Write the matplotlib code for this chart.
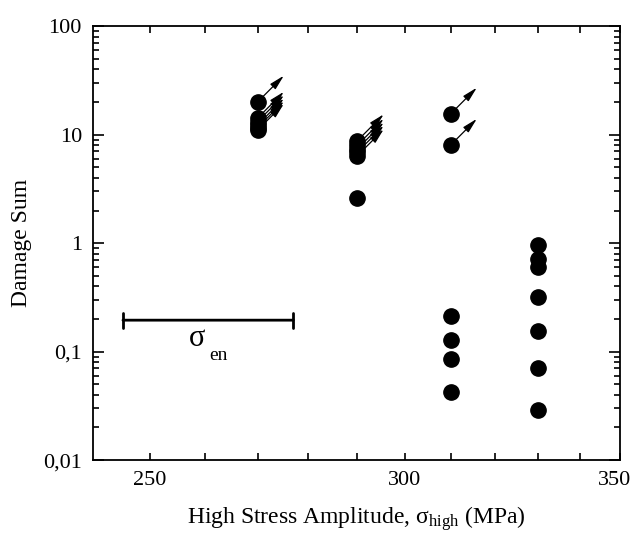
import matplotlib.pyplot as plt
from matplotlib.ticker import FixedLocator, NullFormatter, LogLocator, FixedFormatter
import matplotlib.transforms as mtransforms
import numpy as np

plt.rcParams['font.family'] = ['Liberation Serif', 'DejaVu Serif']
plt.rcParams['mathtext.fontset'] = 'stix'

# runouts (still alive -> arrow)
x_run = [270, 270, 270, 270, 270, 270, 290, 290, 290, 290, 290, 310, 310]
y_run = [20, 14.2, 13.2, 12.3, 11.6, 11, 8.8, 8.0, 7.4, 6.9, 6.4, 15.5, 8.0]

# failed specimens
x_fail = [290, 310, 310, 310, 310, 330, 330, 330, 330, 330, 330, 330]
y_fail = [2.6, 0.215, 0.128, 0.086, 0.042, 0.97, 0.72, 0.60, 0.32, 0.155, 0.07, 0.029]

sigma_en = [245.2, 277.0]
sigma_en_y = 0.195

fig = plt.figure(figsize=(6.34, 5.35), dpi=100)
ax = fig.add_axes([0.1467, 0.140, 0.8313, 0.811])

ax.set_xscale('log')
ax.set_yscale('log')
ax.set_xlim(240, 350)
ax.set_ylim(0.01, 100)

ax.plot(x_run, y_run, 'o', color='black', ms=11, zorder=3)
ax.plot(x_fail, y_fail, 'o', color='black', ms=11, zorder=3)

# arrows from runout points, up and right
for xv, yv in zip(x_run, y_run):
    ax.annotate('', xy=(xv * 1.019, yv * 1.75), xytext=(xv, yv),
                arrowprops=dict(arrowstyle='-|>,head_length=0.9,head_width=0.22',
                                color='black', lw=0.9, shrinkA=0, shrinkB=0))

# sigma_en bar
ax.annotate('', xy=(sigma_en[0], sigma_en_y), xytext=(sigma_en[1], sigma_en_y),
            arrowprops=dict(arrowstyle='|-|,widthA=0.55,widthB=0.55',
                            color='black', lw=2, shrinkA=0, shrinkB=0))
ax.text(258.5, 0.112, 'σ', fontsize=22, ha='center', va='baseline')
ax.text(262.5, 0.083, 'en', fontsize=14, ha='center', va='baseline')

ax.xaxis.set_major_locator(FixedLocator([250, 300, 350]))
ax.xaxis.set_major_formatter(FixedFormatter(['250', '300', '350']))
ax.xaxis.set_minor_locator(FixedLocator([260, 270, 280, 290, 310, 320, 330, 340]))
ax.xaxis.set_minor_formatter(NullFormatter())

ax.yaxis.set_major_locator(FixedLocator([0.01, 0.1, 1, 10, 100]))
ax.yaxis.set_major_formatter(FixedFormatter(['0,01', '0,1', '1', '10', '100']))
ax.yaxis.set_minor_locator(LogLocator(base=10, subs=np.arange(2, 10), numticks=20))
ax.yaxis.set_minor_formatter(NullFormatter())

ax.tick_params(axis='both', which='both', direction='in', top=True, right=True,
               labelsize=16, width=1.2, pad=8)
ax.tick_params(axis='y', which='major', length=8)
ax.tick_params(axis='y', which='minor', length=4.5)
ax.tick_params(axis='x', which='both', length=5)
for s in ax.spines.values():
    s.set_linewidth(1.3)

fig.canvas.draw()
last = ax.get_xticklabels()[-1]
last.set_transform(last.get_transform() + mtransforms.ScaledTranslation(-5 / 100, 0, fig.dpi_scale_trans))

ax.set_xlabel(r'High Stress Amplitude, $\mathregular{\sigma_{high}}$ (MPa)', fontsize=17, labelpad=10)
ax.set_ylabel('Damage Sum', fontsize=17, labelpad=8)

fig.savefig('out.png', dpi=100)
